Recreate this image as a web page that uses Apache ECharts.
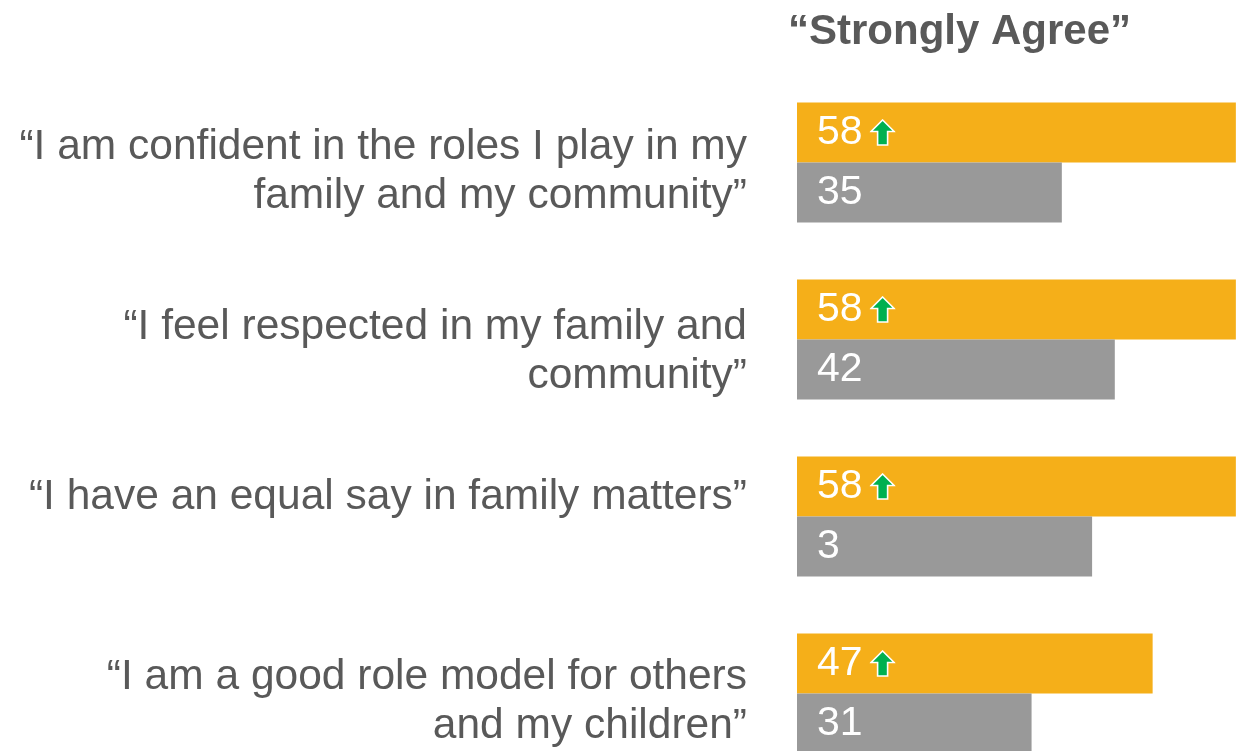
<!DOCTYPE html>
<html>
<head>
<meta charset="utf-8">
<script src="https://cdn.jsdelivr.net/npm/echarts@6/dist/echarts.min.js"></script>
<style>
  html, body { margin: 0; padding: 0; background: #fff; }
  #chart { width: 1243px; height: 751px; }
</style>
</head>
<body>
<div id="chart"></div>
<script>
// statements, top to bottom
const categories = [
  '“I am confident in the roles I play in my\nfamily and my community”',
  '“I feel respected in my family and\ncommunity”',
  '“I have an equal say in family matters”',
  '“I am a good role model for others\nand my children”'
]
const currentValues = [58, 58, 58, 47]
const previousValues = [35, 42, 39, 31]
// labels as printed on the bars (third one is cut off in the source)
const previousLabels = ['35', '42', '3', '31']
const titleText = '“Strongly Agree”'

const FONT = '"Liberation Sans", Arial, sans-serif'
const arrowSvg = 'data:image/svg+xml;utf8,' + encodeURIComponent(
  '<svg xmlns="http://www.w3.org/2000/svg" width="26" height="28" viewBox="0 0 26 28">' +
  '<path d="M13 1.5 L24.5 13 L18 13 L18 26.5 L8 26.5 L8 13 L1.5 13 Z" fill="#00B050" stroke="#ffffff" stroke-width="1.6" stroke-linejoin="miter"/>' +
  '</svg>')

const labelText = { fontFamily: FONT, fontSize: 42.5, lineHeight: 49, color: '#595959' }
// the text boxes sit a bit off the bar centres in the original
const catRich = {
  p0: Object.assign({ padding: [19, 0, 0, 0] }, labelText),
  p1: Object.assign({ padding: [24, 0, 0, 0] }, labelText),
  p2: Object.assign({ padding: [0, 0, 39, 0] }, labelText),
  p3: Object.assign({ padding: [16, 0, 0, 0] }, labelText)
}

const chart = echarts.init(document.getElementById('chart'))

chart.setOption({
  backgroundColor: '#ffffff',
  animation: false,
  title: {
    text: titleText,
    left: 783,
    top: 6,
    textStyle: {
      fontFamily: FONT,
      fontSize: 42,
      fontWeight: 'bold',
      color: '#595959'
    }
  },
  grid: {
    left: 797,
    top: 74,
    width: 454,
    height: 708,
    outerBoundsMode: 'none'
  },
  xAxis: {
    type: 'value',
    min: 0,
    max: 60,
    show: false
  },
  yAxis: {
    type: 'category',
    inverse: true,
    data: categories,
    axisLine: { show: false },
    axisTick: { show: false },
    axisLabel: {
      margin: 50,
      align: 'right',
      fontFamily: FONT,
      fontSize: 42.5,
      lineHeight: 49,
      color: '#595959',
      formatter: (value, index) => value.split('\n')
        .map((line) => '{p' + index + '|' + line + '}')
        .join('\n'),
      rich: catRich
    }
  },
  series: [{
    name: 'current',
    type: 'bar',
    barWidth: 60,
    barGap: 0,
    itemStyle: { color: '#F5AF19' },
    label: {
      show: true,
      position: 'insideLeft',
      distance: 20,
      formatter: (p) => '{v|' + p.value + '}{sp|}{up|}',
      rich: {
        v: { fontFamily: FONT, fontSize: 41, color: '#ffffff' },
        sp: { width: 7, height: 10 },
        up: {
          width: 26,
          height: 28,
          backgroundColor: { image: arrowSvg }
        }
      }
    },
    data: currentValues
  }, {
    name: 'previous',
    type: 'bar',
    barWidth: 60,
    itemStyle: { color: '#999999' },
    label: {
      show: true,
      position: 'insideLeft',
      distance: 20,
      fontFamily: FONT,
      fontSize: 41,
      color: '#ffffff',
      formatter: (p) => previousLabels[p.dataIndex]
    },
    data: previousValues
  }]
})
</script>
</body>
</html>
